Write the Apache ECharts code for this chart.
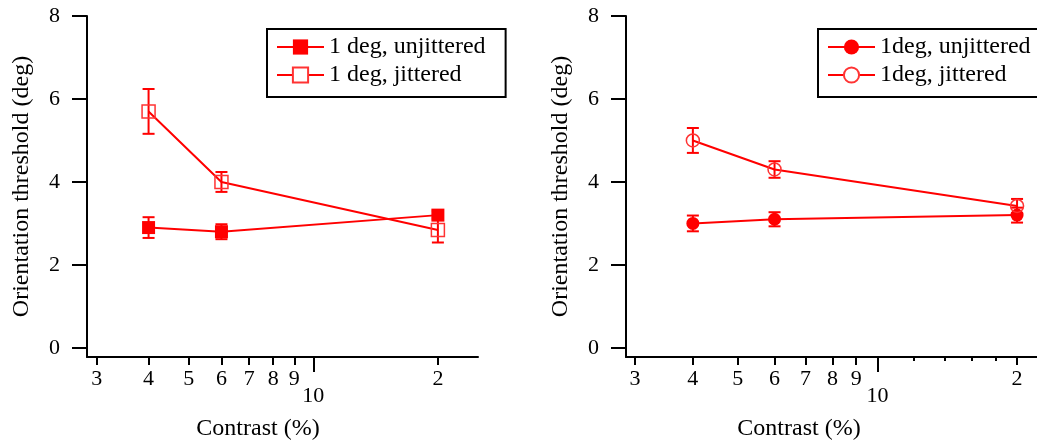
<!DOCTYPE html>
<html>
<head>
<meta charset="utf-8">
<script src="https://cdn.jsdelivr.net/npm/echarts@6/dist/echarts.min.js"></script>
<style>
html,body{margin:0;padding:0;background:#fff;}
#chart{width:1037px;height:444px;}
</style>
</head>
<body>
<div id="chart"></div>
<script>
// ---- data ----
const contrast = [4, 6, 20];
const leftUnjit = [2.9, 2.8, 3.2];
const leftUnjitErr = [0.25, 0.18, 0.1];
const leftJit = [5.7, 4.0, 2.84];
const leftJitErr = [0.54, 0.24, 0.3];
const rightUnjit = [3.0, 3.1, 3.2];
const rightUnjitErr = [0.19, 0.17, 0.18];
const rightJit = [5.0, 4.3, 3.42];
const rightJitErr = [0.3, 0.2, 0.17];

const xTickValues = [3, 4, 5, 6, 7, 8, 9, 20];
const xMajorTick = [10];
const xMinorTicksRight = [12, 14, 16, 18];
const yTickValues = [0, 2, 4, 6, 8];

const leftNames = ['1 deg, unjittered', '1 deg, jittered'];
const rightNames = ['1deg, unjittered', '1deg, jittered'];
const yTitle = 'Orientation threshold (deg)';
const xTitle = 'Contrast (%)';

const RED = '#ff0000';
const RED_OPEN = '#ff3333';
const FONT = '"Liberation Serif", "Times New Roman", serif';

function pts(xs, ys) { return xs.map((x, i) => [x, ys[i]]); }
function errPts(xs, ys, es) { return xs.map((x, i) => [x, ys[i], es[i]]); }

function errorSeries(idx, data) {
  return {
    type: 'custom', xAxisIndex: idx * 3, yAxisIndex: idx, z: 1,
    silent: true,
    data: data,
    encode: { x: 0, y: 1 },
    renderItem: function (params, api) {
      const x = api.value(0), y = api.value(1), e = api.value(2);
      const t = api.coord([x, y + e]);
      const b = api.coord([x, y - e]);
      const hw = 6;
      const st = { stroke: RED, lineWidth: 2 };
      return {
        type: 'group',
        children: [
          { type: 'line', shape: { x1: t[0], y1: t[1], x2: b[0], y2: b[1] }, style: st },
          { type: 'line', shape: { x1: t[0] - hw, y1: t[1], x2: t[0] + hw, y2: t[1] }, style: st },
          { type: 'line', shape: { x1: b[0] - hw, y1: b[1], x2: b[0] + hw, y2: b[1] }, style: st }
        ]
      };
    }
  };
}

function lineSeries(idx, name, data, symbol, open) {
  return {
    type: 'line', name: name, xAxisIndex: idx * 3, yAxisIndex: idx, z: 3,
    data: data,
    symbol: symbol,
    symbolSize: 13,
    showAllSymbol: true,
    lineStyle: { color: RED, width: 2 },
    itemStyle: open
      ? { color: 'rgba(255,255,255,0)', borderColor: RED_OPEN, borderWidth: 1.5 }
      : { color: RED, borderWidth: 0 },
    emphasis: { disabled: true }
  };
}

function xAxes(gridIndex, minV, withMinor) {
  const base = {
    type: 'log', logBase: 10, gridIndex: gridIndex, min: minV, max: 25,
    position: 'bottom', splitLine: { show: false }, minorTick: { show: false }
  };
  return [
    Object.assign({}, base, {
      axisLine: { show: true, onZero: false, lineStyle: { color: '#000', width: 2 } },
      axisTick: { show: true, customValues: xTickValues, length: 8, lineStyle: { color: '#000', width: 2 } },
      axisLabel: {
        show: true, customValues: xTickValues, margin: 11,
        fontFamily: FONT, fontSize: 22, color: '#000',
        formatter: function (v) { return v >= 19 ? '2' : String(Math.round(v)); }
      }
    }),
    Object.assign({}, base, {
      axisLine: { show: false, onZero: false },
      axisTick: { show: true, customValues: xMajorTick, length: 15, lineStyle: { color: '#000', width: 2 } },
      axisLabel: {
        show: true, customValues: xMajorTick, margin: 28,
        fontFamily: FONT, fontSize: 22, color: '#000',
        formatter: function (v) { return String(Math.round(v)); }
      }
    }),
    Object.assign({}, base, {
      axisLine: { show: false, onZero: false },
      axisTick: { show: withMinor, customValues: xMinorTicksRight, length: 4, lineStyle: { color: '#000', width: 2 } },
      axisLabel: { show: false }
    })
  ];
}

function yAxis(gridIndex) {
  return {
    type: 'value', gridIndex: gridIndex, min: -0.22, max: 8,
    splitLine: { show: false },
    axisLine: { show: true, onZero: false, lineStyle: { color: '#000', width: 2 } },
    axisTick: { show: true, customValues: yTickValues, length: 15, lineStyle: { color: '#000', width: 2 } },
    axisLabel: { show: true, customValues: yTickValues, margin: 27, fontFamily: FONT, fontSize: 22, color: '#000' },
    name: yTitle, nameLocation: 'middle', nameGap: 53,
    nameTextStyle: { fontFamily: FONT, fontSize: 24, color: '#000' }
  };
}

function legend(left, names, padRight, bordered) {
  return {
    orient: 'vertical', left: left, top: 29, z: 10,
    padding: [4, padRight, 8, bordered ? 9 : 10],
    itemGap: 0, itemWidth: 47, itemHeight: 19,
    borderColor: '#000', borderWidth: bordered ? 2 : 0,
    backgroundColor: bordered ? '#fff' : 'transparent',
    selectedMode: false,
    textStyle: { fontFamily: FONT, fontSize: 24, color: '#000', lineHeight: 28 },
    data: [
      { name: names[0] },
      { name: names[1], itemStyle: { color: '#fff' } }
    ]
  };
}

const chart = echarts.init(document.getElementById('chart'), null, { renderer: 'canvas' });
chart.setOption({
  animation: false,
  backgroundColor: '#fff',
  title: [
    { text: xTitle, left: 258, top: 429, textAlign: 'center', textVerticalAlign: 'middle', padding: 0,
      textStyle: { fontFamily: FONT, fontSize: 24, fontWeight: 'normal', color: '#000' } },
    { text: xTitle, left: 799, top: 429, textAlign: 'center', textVerticalAlign: 'middle', padding: 0,
      textStyle: { fontFamily: FONT, fontSize: 24, fontWeight: 'normal', color: '#000' } }
  ],
  graphic: [
    { type: 'rect', z: 5,
      shape: { x: 818, y: 29, width: 260, height: 68 },
      style: { fill: '#fff', stroke: '#000', lineWidth: 2 } }
  ],
  legend: [
    legend(267, leftNames, 20, true),
    legend(817, rightNames, 20, false)
  ],
  grid: [
    { left: 87, top: 16, width: 391, height: 341, outerBoundsMode: 'none', containLabel: false },
    { left: 626, top: 16, width: 436, height: 341, outerBoundsMode: 'none', containLabel: false }
  ],
  xAxis: [].concat(xAxes(0, 2.84, false), xAxes(1, 2.87, true)),
  yAxis: [yAxis(0), yAxis(1)],
  series: [
    errorSeries(0, errPts(contrast, leftUnjit, leftUnjitErr)),
    errorSeries(0, errPts(contrast, leftJit, leftJitErr)),
    lineSeries(0, leftNames[0], pts(contrast, leftUnjit), 'rect', false),
    lineSeries(0, leftNames[1], pts(contrast, leftJit), 'rect', true),
    errorSeries(1, errPts(contrast, rightUnjit, rightUnjitErr)),
    errorSeries(1, errPts(contrast, rightJit, rightJitErr)),
    lineSeries(1, rightNames[0], pts(contrast, rightUnjit), 'circle', false),
    lineSeries(1, rightNames[1], pts(contrast, rightJit), 'circle', true)
  ]
});
</script>
</body>
</html>
